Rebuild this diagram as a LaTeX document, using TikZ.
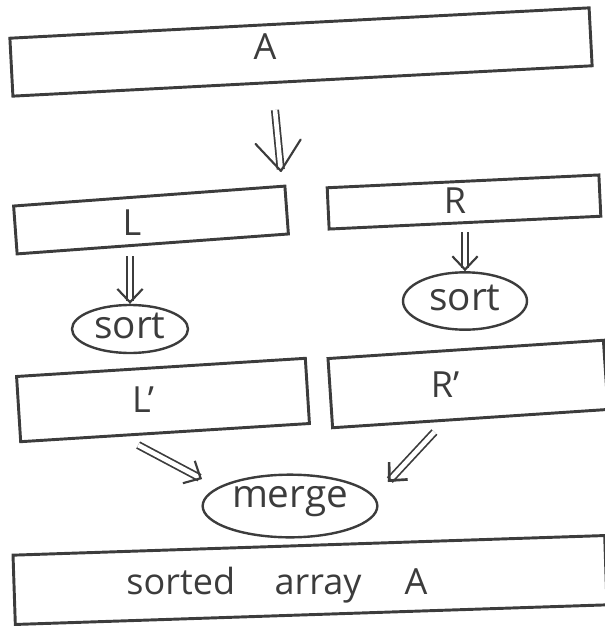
\documentclass[tikz,border=0pt]{standalone}
\usepackage{fontspec}
\setmainfont{Open Sans}
\usetikzlibrary{arrows.meta,shapes.geometric,calc}
\definecolor{ink}{HTML}{3C3C3C}
% double-stroked arrow: shaft as a double line, open barb head on top
\newcommand\dblarrow[3][]{%
  \draw[shaft] (#2) -- (#3);
  \draw[head,#1] ($(#3)!1pt!(#2)$) -- (#3);}
\begin{document}
\begin{tikzpicture}[x=0.75pt,y=-0.75pt,
  box/.style={draw=ink, line width=2.2pt, rectangle, inner sep=0pt},
  oval/.style={draw=ink, line width=1.8pt, ellipse, inner sep=0pt},
  lbl/.style={text=ink, font=\fontsize{27}{32}\selectfont, inner sep=0pt},
  shaft/.style={draw=ink, line width=1.3pt, double=white, double distance=3.5pt,
                shorten >=2pt},
  head/.style={draw=ink, line width=1.6pt, line cap=round, line join=round,
               -{Straight Barb[length=10pt, width=19pt]}}]
\useasboundingbox (0,0) rectangle (605,635);

% the whole array
\node[box, rotate=3, minimum width=435pt, minimum height=43.5pt] (A) at (301,52) {};
\node[lbl] (tA) at (265,47) {A};

% split into two halves
\coordinate (splitTop) at (275,110);
\coordinate (split) at (281,172);
\dblarrow[-{Straight Barb[length=22pt, width=34pt, round]}]{splitTop}{split}

\node[box, rotate=4.2, minimum width=204pt, minimum height=36pt] (L) at (151,220) {};
\node[lbl] (tL) at (132,223) {L};
\node[box, rotate=2.7, minimum width=204pt, minimum height=31pt] (R) at (464,202) {};
\node[lbl] (tR) at (455,201) {R};

% sort each half
\node[oval, minimum width=87pt, minimum height=36pt] (sortL) at (130,329) {};
\node[lbl, font=\fontsize{29}{32}\selectfont] (tsortL) at (130,326) {sort};
\node[oval, minimum width=93pt, minimum height=43pt] (sortR) at (465,301) {};
\node[lbl, font=\fontsize{29}{32}\selectfont] (tsortR) at (465,298) {sort};

\coordinate (lTop) at ([yshift=-8]L.south -| sortL);
\coordinate (rTop) at ([yshift=-6]R.south -| sortR);
\dblarrow{lTop}{sortL.north}
\dblarrow{rTop}{sortR.north}

% sorted halves
\node[box, rotate=3.6, minimum width=217pt, minimum height=49pt] (Lp) at (163,400) {};
\node[lbl] (tLp) at (143,400) {L'};
\node[box, rotate=3.8, minimum width=207pt, minimum height=52pt] (Rp) at (468,384) {};
\node[lbl] (tRp) at (445,385) {R'};

% merge step
\node[oval, minimum width=131pt, minimum height=47pt] (merge) at (290,506) {};
\node[lbl, font=\fontsize{29}{32}\selectfont] (tmerge) at (290,502) {merge};

\coordinate (lpOut) at ([shift={(-27,11)}]Lp.south);
\coordinate (mIn1) at ([shift={(-88,-27)}]merge.center);
\coordinate (rpOut) at ([shift={(-36,12)}]Rp.south);
\coordinate (mIn2) at ([shift={(98,-24)}]merge.center);
\dblarrow{lpOut}{mIn1}
\dblarrow[line width=2pt]{rpOut}{mIn2}

% the result
\node[box, rotate=1.9, minimum width=444pt, minimum height=52pt] (S) at (310,580) {};
\node[lbl] (tS) at (277,585) {sorted\hspace{1.1em}array\hspace{1.2em}A};
\end{tikzpicture}
\end{document}
